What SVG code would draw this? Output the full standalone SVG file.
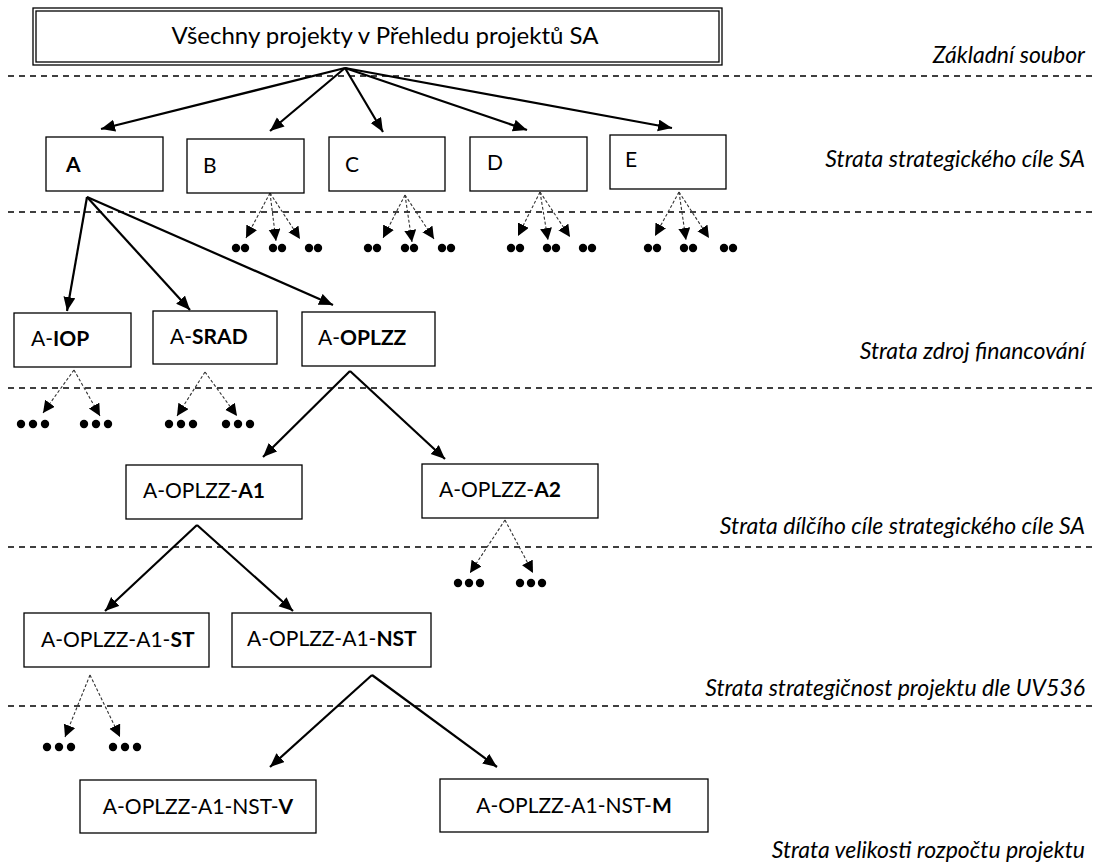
<svg xmlns="http://www.w3.org/2000/svg" width="1097" height="865" viewBox="0 0 1097 865">
<style>
.box{fill:#fff;stroke:#000;stroke-width:1.3}
.t{font-family:Lato,"Liberation Sans",sans-serif;font-size:21px;fill:#000}
.top{font-size:24px}
.b{font-weight:bold}
.lab{font-family:Lato,"Liberation Sans",sans-serif;font-size:23px;font-style:italic;fill:#000;text-anchor:end}
.sep{stroke:#000;stroke-width:1.3;stroke-dasharray:6 5}
.sol{stroke:#000;stroke-width:2.2;fill:none;marker-end:url(#ah)}
.dot{stroke:#333;stroke-width:1.1;stroke-dasharray:3 2;fill:none;marker-end:url(#ahs)}
.d{fill:#000}
</style>
<defs>
<marker id="ah" markerUnits="userSpaceOnUse" markerWidth="20" markerHeight="20" refX="14" refY="6" orient="auto">
<path d="M0,0 L14,6 L0,12 Z" fill="#000"/>
</marker>
<marker id="ahs" markerUnits="userSpaceOnUse" markerWidth="20" markerHeight="20" refX="12" refY="6" orient="auto">
<path d="M0,0 L12,6 L0,12 Z" fill="#000"/>
</marker>
</defs>
<rect width="1097" height="865" fill="#fff"/>

<g id="separators">
<line class="sep" x1="8" y1="76" x2="1097" y2="76"/>
<line class="sep" x1="8" y1="212" x2="1097" y2="212"/>
<line class="sep" x1="8" y1="388" x2="1097" y2="388"/>
<line class="sep" x1="8" y1="547" x2="1097" y2="547"/>
<line class="sep" x1="8" y1="706" x2="1097" y2="706"/>
</g>

<g id="labels">
<text class="lab" x="1085" y="63">Základní soubor</text>
<text class="lab" x="1085" y="167">Strata strategického cíle SA</text>
<text class="lab" x="1085" y="359">Strata zdroj financování</text>
<text class="lab" x="1085" y="534">Strata dílčího cíle strategického cíle SA</text>
<text class="lab" x="1085" y="696">Strata strategičnost projektu dle UV536</text>
<text class="lab" x="1085" y="858">Strata velikosti rozpočtu projektu</text>
</g>

<g id="connectors">
<line class="sol" x1="345" y1="68" x2="101" y2="129"/>
<line class="sol" x1="345" y1="68" x2="270" y2="131"/>
<line class="sol" x1="345" y1="68" x2="383" y2="132"/>
<line class="sol" x1="345" y1="68" x2="527" y2="130"/>
<line class="sol" x1="345" y1="68" x2="672" y2="128"/>

<line class="sol" x1="87" y1="197" x2="67" y2="311"/>
<line class="sol" x1="87" y1="197" x2="190" y2="310"/>
<line class="sol" x1="87" y1="197" x2="333" y2="305"/>

<line class="dot" x1="270" y1="193" x2="246" y2="238"/>
<line class="dot" x1="270" y1="193" x2="276" y2="241"/>
<line class="dot" x1="270" y1="193" x2="300" y2="239"/>
<line class="dot" x1="405" y1="195" x2="383" y2="238"/>
<line class="dot" x1="405" y1="195" x2="412" y2="242"/>
<line class="dot" x1="405" y1="195" x2="434" y2="239"/>
<line class="dot" x1="540" y1="192" x2="518" y2="236"/>
<line class="dot" x1="540" y1="192" x2="548" y2="240"/>
<line class="dot" x1="540" y1="192" x2="570" y2="237"/>
<line class="dot" x1="679" y1="192" x2="655" y2="236"/>
<line class="dot" x1="679" y1="192" x2="686" y2="240"/>
<line class="dot" x1="679" y1="192" x2="709" y2="238"/>

<line class="dot" x1="74" y1="370" x2="43" y2="413"/>
<line class="dot" x1="74" y1="370" x2="100" y2="416"/>
<line class="dot" x1="205" y1="372" x2="177" y2="416"/>
<line class="dot" x1="205" y1="372" x2="237" y2="416"/>

<line class="sol" x1="350" y1="371" x2="263" y2="457"/>
<line class="sol" x1="350" y1="371" x2="445" y2="459"/>

<line class="sol" x1="197" y1="525" x2="105" y2="611"/>
<line class="sol" x1="197" y1="525" x2="293" y2="611"/>

<line class="dot" x1="505" y1="520" x2="470" y2="573"/>
<line class="dot" x1="505" y1="520" x2="533" y2="573"/>

<line class="dot" x1="90" y1="675" x2="65" y2="737"/>
<line class="dot" x1="90" y1="675" x2="120" y2="737"/>

<line class="sol" x1="372" y1="675" x2="270" y2="767"/>
<line class="sol" x1="372" y1="675" x2="497" y2="767"/>
</g>

<g id="ellipses">
<circle class="d" cx="236" cy="248" r="4.2"/><circle class="d" cx="245" cy="248" r="4.2"/>
<circle class="d" cx="273" cy="248" r="4.2"/><circle class="d" cx="282" cy="248" r="4.2"/>
<circle class="d" cx="309" cy="248" r="4.2"/><circle class="d" cx="318" cy="248" r="4.2"/>
<circle class="d" cx="368" cy="248" r="4.2"/><circle class="d" cx="377" cy="248" r="4.2"/>
<circle class="d" cx="405" cy="248" r="4.2"/><circle class="d" cx="414" cy="248" r="4.2"/>
<circle class="d" cx="442" cy="248" r="4.2"/><circle class="d" cx="451" cy="248" r="4.2"/>
<circle class="d" cx="511" cy="248" r="4.2"/><circle class="d" cx="520" cy="248" r="4.2"/>
<circle class="d" cx="547" cy="248" r="4.2"/><circle class="d" cx="556" cy="248" r="4.2"/>
<circle class="d" cx="583" cy="248" r="4.2"/><circle class="d" cx="592" cy="248" r="4.2"/>
<circle class="d" cx="648" cy="248" r="4.2"/><circle class="d" cx="657" cy="248" r="4.2"/>
<circle class="d" cx="684" cy="248" r="4.2"/><circle class="d" cx="693" cy="248" r="4.2"/>
<circle class="d" cx="724" cy="248" r="4.2"/><circle class="d" cx="733" cy="248" r="4.2"/>

<circle class="d" cx="21" cy="424" r="4.2"/><circle class="d" cx="33" cy="424" r="4.2"/><circle class="d" cx="45" cy="424" r="4.2"/>
<circle class="d" cx="84" cy="424" r="4.2"/><circle class="d" cx="96" cy="424" r="4.2"/><circle class="d" cx="108" cy="424" r="4.2"/>
<circle class="d" cx="169" cy="424" r="4.2"/><circle class="d" cx="181" cy="424" r="4.2"/><circle class="d" cx="193" cy="424" r="4.2"/>
<circle class="d" cx="226" cy="424" r="4.2"/><circle class="d" cx="238" cy="424" r="4.2"/><circle class="d" cx="250" cy="424" r="4.2"/>

<circle class="d" cx="458" cy="583" r="4.2"/><circle class="d" cx="469" cy="583" r="4.2"/><circle class="d" cx="480" cy="583" r="4.2"/>
<circle class="d" cx="520" cy="583" r="4.2"/><circle class="d" cx="531" cy="583" r="4.2"/><circle class="d" cx="542" cy="583" r="4.2"/>

<circle class="d" cx="47" cy="747" r="4.2"/><circle class="d" cx="59" cy="747" r="4.2"/><circle class="d" cx="71" cy="747" r="4.2"/>
<circle class="d" cx="113" cy="747" r="4.2"/><circle class="d" cx="125" cy="747" r="4.2"/><circle class="d" cx="137" cy="747" r="4.2"/>
</g>

<g id="root">
<rect class="box" x="33" y="8" width="689" height="57"/>
<rect class="box" x="36" y="11" width="683" height="51"/>
<text class="t top" x="385" y="44" text-anchor="middle">Všechny projekty v Přehledu projektů SA</text>
</g>

<g id="nA"><rect class="box" x="46" y="137" width="117" height="54"/><text class="t b" x="66" y="172">A</text></g>
<g id="nB"><rect class="box" x="187" y="139" width="117" height="54"/><text class="t" x="203" y="173">B</text></g>
<g id="nC"><rect class="box" x="329" y="137" width="116" height="54"/><text class="t" x="345" y="172">C</text></g>
<g id="nD"><rect class="box" x="470" y="137" width="117" height="54"/><text class="t" x="487" y="170">D</text></g>
<g id="nE"><rect class="box" x="610" y="135" width="116" height="54"/><text class="t" x="625" y="167">E</text></g>

<g id="nIOP"><rect class="box" x="14" y="313" width="117" height="54"/><text class="t" x="31" y="346">A-<tspan class="b">IOP</tspan></text></g>
<g id="nSRAD"><rect class="box" x="153" y="311" width="124" height="53"/><text class="t" x="170" y="344">A-<tspan class="b">SRAD</tspan></text></g>
<g id="nOPLZZ"><rect class="box" x="302" y="312" width="133" height="54"/><text class="t" x="318" y="345">A-<tspan class="b">OPLZZ</tspan></text></g>

<g id="nA1"><rect class="box" x="126" y="465" width="176" height="54"/><text class="t" x="143" y="498">A-OPLZZ-<tspan class="b">A1</tspan></text></g>
<g id="nA2"><rect class="box" x="422" y="464" width="176" height="54"/><text class="t" x="439" y="497">A-OPLZZ-<tspan class="b">A2</tspan></text></g>

<g id="nST"><rect class="box" x="24" y="613" width="185" height="54"/><text class="t" x="41" y="647">A-OPLZZ-A1-<tspan class="b">ST</tspan></text></g>
<g id="nNST"><rect class="box" x="232" y="613" width="199" height="54"/><text class="t" x="247" y="646">A-OPLZZ-A1-<tspan class="b">NST</tspan></text></g>

<g id="nV"><rect class="box" x="80" y="780" width="236" height="53"/><text class="t" x="198" y="814" text-anchor="middle">A-OPLZZ-A1-NST-<tspan class="b">V</tspan></text></g>
<g id="nM"><rect class="box" x="440" y="779" width="268" height="53"/><text class="t" x="574" y="813" text-anchor="middle">A-OPLZZ-A1-NST-<tspan class="b">M</tspan></text></g>
</svg>
